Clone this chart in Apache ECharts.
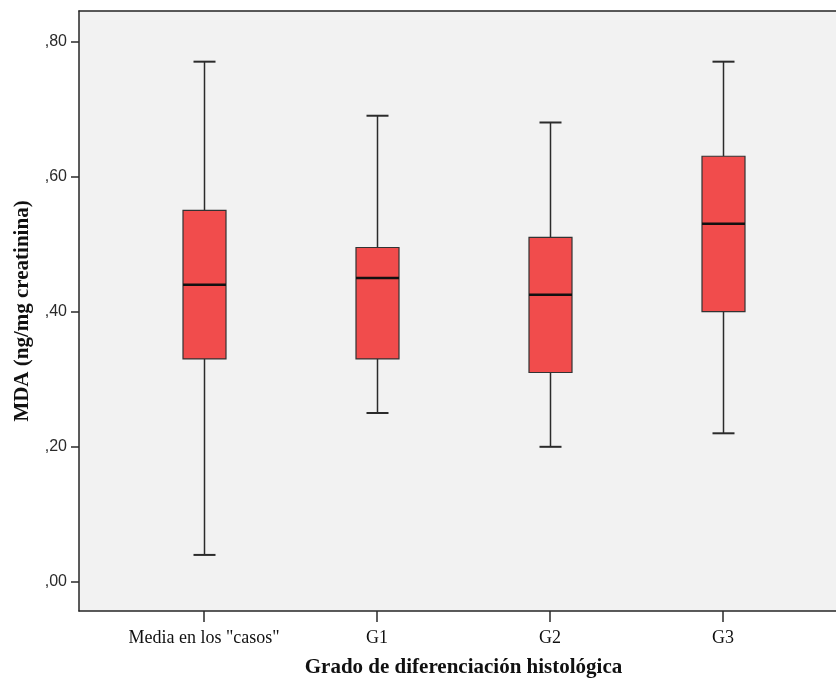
<!DOCTYPE html>
<html>
<head>
<meta charset="utf-8">
<script src="https://cdn.jsdelivr.net/npm/echarts@6/dist/echarts.min.js"></script>
<style>
  html, body { margin: 0; padding: 0; background: #ffffff; }
  #chart { width: 836px; height: 679px; }
</style>
</head>
<body>
<div id="chart"></div>
<script>
// Box plot of MDA by histological differentiation grade
const categories = ['Media en los "casos"', 'G1', 'G2', 'G3'];
const whiskerLow  = [0.04, 0.25, 0.20, 0.22];
const quartile1   = [0.33, 0.33, 0.31, 0.40];
const medians     = [0.44, 0.45, 0.425, 0.53];
const quartile3   = [0.55, 0.495, 0.51, 0.63];
const whiskerHigh = [0.77, 0.69, 0.68, 0.77];
const yTicks = [0, 0.2, 0.4, 0.6, 0.8];

const boxData = categories.map((c, i) => [i, whiskerLow[i], quartile1[i], medians[i], quartile3[i], whiskerHigh[i]]);

const Y_MIN = -0.043, Y_MAX = 0.845;
const LINE = '#2b2b2b';
const FRAME = { show: true, onZero: false, lineStyle: { color: '#262626', width: 1.5 } };
const BOX_W = 43, CAP_W = 22;

function renderBox(params, api) {
  const i = api.value(0);
  const pLo = api.coord([i, api.value(1)]);
  const pQ1 = api.coord([i, api.value(2)]);
  const pMd = api.coord([i, api.value(3)]);
  const pQ3 = api.coord([i, api.value(4)]);
  const pHi = api.coord([i, api.value(5)]);
  const x = Math.round(pMd[0]) + 0.5;
  const lineStyle = { stroke: LINE, lineWidth: 1.5 };
  return {
    type: 'group',
    children: [
      { type: 'line', shape: { x1: x, y1: pHi[1], x2: x, y2: pQ3[1] }, style: lineStyle },
      { type: 'line', shape: { x1: x, y1: pQ1[1], x2: x, y2: pLo[1] }, style: lineStyle },
      { type: 'line', shape: { x1: x - CAP_W / 2, y1: pHi[1], x2: x + CAP_W / 2, y2: pHi[1] }, style: { stroke: LINE, lineWidth: 2 } },
      { type: 'line', shape: { x1: x - CAP_W / 2, y1: pLo[1], x2: x + CAP_W / 2, y2: pLo[1] }, style: { stroke: LINE, lineWidth: 2 } },
      { type: 'rect', shape: { x: x - BOX_W / 2, y: pQ3[1], width: BOX_W, height: pQ1[1] - pQ3[1] },
        style: { fill: '#f14c4c', stroke: '#333333', lineWidth: 1.2 } },
      { type: 'line', shape: { x1: x - BOX_W / 2, y1: pMd[1], x2: x + BOX_W / 2, y2: pMd[1] }, style: { stroke: '#111111', lineWidth: 2.5 } }
    ]
  };
}

const chart = echarts.init(document.getElementById('chart'), null, { renderer: 'canvas' });
chart.setOption({
  backgroundColor: '#ffffff',
  animation: false,
  grid: [
    // plotting frame: open on the right side
    { left: 79, top: 11, right: 0, height: 600, show: true, backgroundColor: '#f2f2f2', borderWidth: 0,
      outerBoundsMode: 'none', containLabel: false },
    { left: 117.5, top: 11, width: 692, height: 600, outerBoundsMode: 'none', containLabel: false }
  ],
  xAxis: [
    { gridIndex: 0, type: 'value', min: 0, max: 1, position: 'bottom',
      axisLine: FRAME, axisTick: { show: false }, axisLabel: { show: false }, splitLine: { show: false } },
    { gridIndex: 0, type: 'value', min: 0, max: 1, position: 'top',
      axisLine: FRAME, axisTick: { show: false }, axisLabel: { show: false }, splitLine: { show: false } },
    {
      gridIndex: 1, type: 'category', data: categories, position: 'bottom',
      axisLine: { show: false, onZero: false },
      axisTick: { show: true, interval: 0, alignWithLabel: true, length: 11, lineStyle: { color: LINE, width: 1.5 } },
      axisLabel: { interval: 0, hideOverlap: false, margin: 18, color: '#111111', fontFamily: 'Liberation Serif', fontSize: 18 },
      name: 'Grado de diferenciación histológica',
      nameLocation: 'middle', nameGap: 46,
      nameTextStyle: { fontFamily: 'Liberation Serif', fontWeight: 'bold', fontSize: 21, color: '#111111' }
    }
  ],
  yAxis: [
    {
      gridIndex: 0, type: 'value', min: Y_MIN, max: Y_MAX,
      splitLine: { show: false },
      axisLine: FRAME,
      axisTick: { show: true, length: 8, customValues: yTicks, lineStyle: { color: LINE, width: 1.5 } },
      axisLabel: {
        margin: 12, color: '#2a2a2a', fontFamily: 'Liberation Sans', fontSize: 16,
        customValues: yTicks,
        formatter: v => ',' + v.toFixed(2).split('.')[1]
      },
      name: 'MDA (ng/mg creatinina)',
      nameLocation: 'middle', nameGap: 46, nameRotate: 90,
      nameTextStyle: { fontFamily: 'Liberation Serif', fontWeight: 'bold', fontSize: 21, color: '#111111' }
    },
    { gridIndex: 1, type: 'value', min: Y_MIN, max: Y_MAX, show: false }
  ],
  series: [{
    type: 'custom',
    xAxisIndex: 2, yAxisIndex: 1,
    renderItem: renderBox,
    encode: { x: 0, y: [1, 2, 3, 4, 5] },
    data: boxData,
    clip: false
  }]
});
</script>
</body>
</html>
